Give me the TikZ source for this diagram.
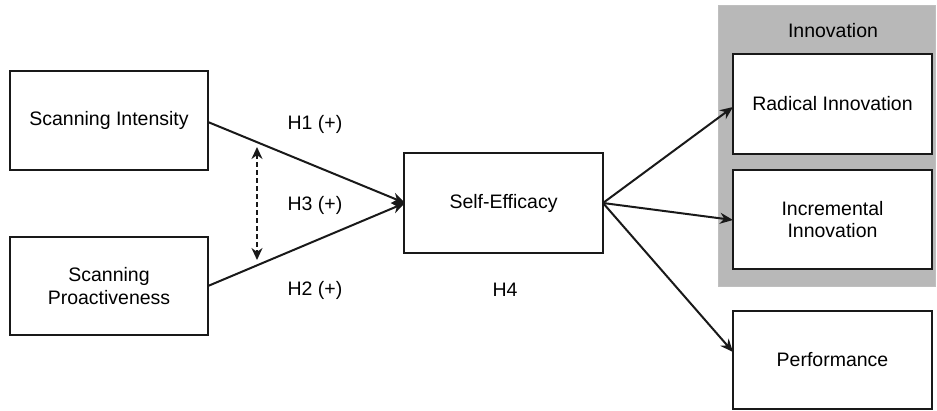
\documentclass[tikz,border=0pt]{standalone}
\usepackage{fontspec}
\setmainfont{Liberation Sans}
\usetikzlibrary{arrows.meta}
\begin{document}
\begin{tikzpicture}[x=1pt,y=-1pt,
  every node/.style={font=\fontsize{19.5}{22.5}\selectfont},
  box/.style={draw=black!90,line width=2pt,fill=white,align=center,inner sep=0pt},
  arr/.style={line width=2pt,draw=black!90,-{Stealth[length=13pt,width=11pt]}},
  lbl/.style={text=black}]
\useasboundingbox (0,0) rectangle (937,410);
\node[draw=black!25,line width=1pt,fill=black!28,minimum width=217pt,minimum height=281pt,anchor=north west] (grp) at (718,5) {};
\node[lbl] (innov) at (833,31) {Innovation};
\node[box,minimum width=198pt,minimum height=99pt] (si) at (109,120.5) {Scanning Intensity};
\node[box,minimum width=198pt,minimum height=98pt] (sp) at (109,286) {Scanning\\Proactiveness};
\node[box,minimum width=199pt,minimum height=100pt] (se) at (503.5,203) {Self-Efficacy};
\node[box,minimum width=199pt,minimum height=100pt] (ri) at (832.5,104) {Radical Innovation};
\node[box,minimum width=199pt,minimum height=99pt] (ii) at (832.5,219.5) {Incremental\\Innovation};
\node[box,minimum width=199pt,minimum height=98pt] (pf) at (832.5,360) {Performance};
\coordinate (siR) at (208,122);
\coordinate (spR) at (208,286);
\coordinate (seL) at (405,203);
\coordinate (seR) at (603,203);
\coordinate (riL) at (733,107);
\coordinate (iiL) at (733,220);
\coordinate (pfL) at (733,352);
\draw[arr] (siR) -- (seL);
\draw[arr] (spR) -- (seL);
\draw[arr] (seR) -- (riL);
\draw[arr] (seR) -- (iiL);
\draw[arr] (seR) -- (pfL);
\coordinate (dt) at (257,147);
\coordinate (db) at (257,260);
\draw[line width=2pt,draw=black!90,dash pattern=on 5pt off 3pt,{Stealth[length=12pt,width=11pt]}-{Stealth[length=12pt,width=11pt]}] (dt) -- (db);
\node[lbl] (h1) at (315,124) {H1 (+)};
\node[lbl] (h3) at (315,205) {H3 (+)};
\node[lbl] (h2) at (315,290) {H2 (+)};
\node[lbl] (h4) at (505,290) {H4};
\end{tikzpicture}
\end{document}
